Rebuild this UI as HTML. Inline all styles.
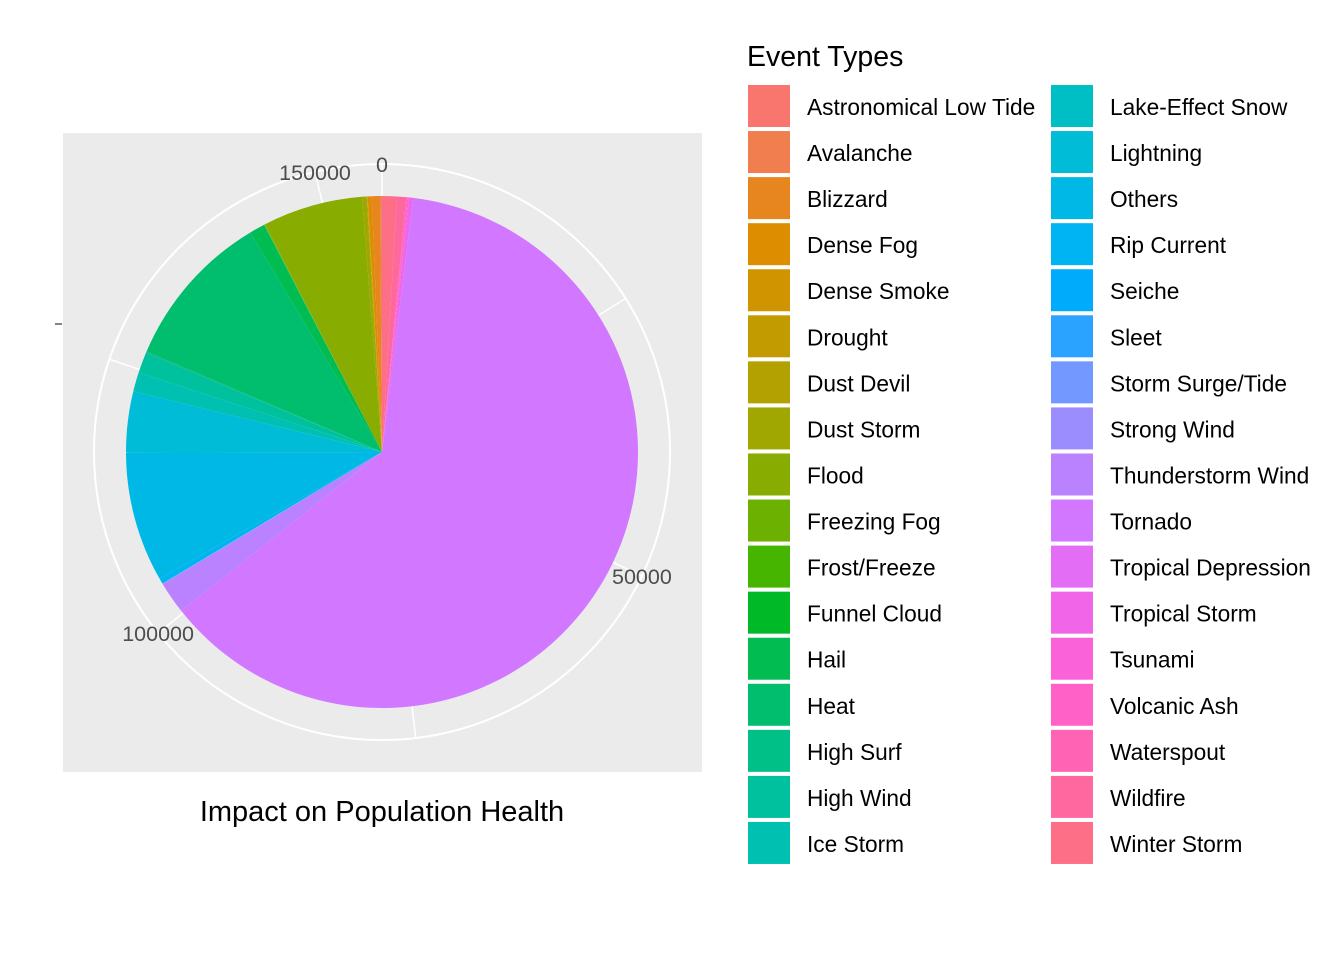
<!DOCTYPE html>
<html><head><meta charset="utf-8"><style>
body{margin:0;background:#fff;font-family:"Liberation Sans",Arial,sans-serif}
svg text{font-family:"Liberation Sans",Arial,sans-serif}
</style></head><body>
<svg id="chart" width="1344" height="960" xmlns="http://www.w3.org/2000/svg">
<rect x="0" y="0" width="1344" height="960" fill="#fff"/>
<rect x="63" y="133" width="639" height="639" fill="#EBEBEB"/>
<g id="grid"></g><g id="slices"></g><g id="labels"></g>
<line x1="55" y1="324" x2="62" y2="324" stroke="#333" stroke-width="1.2"/>
<text x="382" y="821" font-size="29" text-anchor="middle" fill="#000">Impact on Population Health</text>
<text x="747" y="66" font-size="28.5" fill="#000">Event Types</text>
<g id="legend"></g>
</svg>
<script>
const categories=["Astronomical Low Tide","Avalanche","Blizzard","Dense Fog","Dense Smoke","Drought","Dust Devil","Dust Storm","Flood","Freezing Fog","Frost/Freeze","Funnel Cloud","Hail","Heat","High Surf","High Wind","Ice Storm","Lake-Effect Snow","Lightning","Others","Rip Current","Seiche","Sleet","Storm Surge/Tide","Strong Wind","Thunderstorm Wind","Tornado","Tropical Depression","Tropical Storm","Tsunami","Volcanic Ash","Waterspout","Wildfire","Winter Storm"];
const values=[5,190,800,400,10,20,60,460,9850,30,20,40,1510,15560,130,2030,1900,5,6000,12800,520,1,1,60,40,3110,97250,1,400,160,1,100,900,1460];
const tickValues=[0,50000,100000,150000];
const tickLabels=["0","50000","100000","150000"];
const minorTicks=[25000,75000,125000];
</script>
<script>
const NS="http://www.w3.org/2000/svg";
const cx=382,cy=452,R=256,RG=288;
const n=categories.length;
function hcl(h,c,l){
  const hr=h*Math.PI/180,U=c*Math.cos(hr),V=c*Math.sin(hr);
  const Xn=95.047,Yn=100,Zn=108.883;
  const un=4*Xn/(Xn+15*Yn+3*Zn),vn=9*Yn/(Xn+15*Yn+3*Zn);
  const Y=l>8?Yn*Math.pow((l+16)/116,3):Yn*l/903.3;
  const u=U/(13*l)+un,v=V/(13*l)+vn;
  const X=9*Y*u/(4*v),Z=-X/3-5*Y+3*Y/v;
  const x=X/100,y=Y/100,z=Z/100;
  let r=3.240479*x-1.53715*y-0.498535*z,g=-0.969256*x+1.875992*y+0.041556*z,b=0.055648*x-0.204043*y+1.057311*z;
  const gam=t=>{t=t>0.0031308?1.055*Math.pow(t,1/2.4)-0.055:12.92*t;return Math.round(Math.max(0,Math.min(1,t))*255)};
  return `rgb(${gam(r)},${gam(g)},${gam(b)})`;
}
const colors=categories.map((c,i)=>hcl(15+i*360/n,100,65));
const total=values.reduce((a,b)=>a+b,0);
const ang=v=>v/total*2*Math.PI;
const pt=(a,r)=>[cx+r*Math.sin(a),cy-r*Math.cos(a)];
const grid=document.getElementById('grid');
let c=document.createElementNS(NS,'circle');
c.setAttribute('cx',cx);c.setAttribute('cy',cy);c.setAttribute('r',RG);c.setAttribute('fill','none');c.setAttribute('stroke','#fff');c.setAttribute('stroke-width','2');


grid.appendChild(c);
tickValues.concat(minorTicks).forEach(v=>{
  const [x,y]=pt(ang(v),RG);
  const l=document.createElementNS(NS,'line');
  l.setAttribute('x1',cx);l.setAttribute('y1',cy);l.setAttribute('x2',x);l.setAttribute('y2',y);
  l.setAttribute('stroke','#fff');l.setAttribute('stroke-width','1.5');
  
  
  grid.appendChild(l);
});
const sl=document.getElementById('slices');
let cum=0;
for(let i=n-1;i>=0;i--){
  const a0=ang(cum),a1=ang(cum+values[i]);cum+=values[i];
  const [x0,y0]=pt(a0,R),[x1,y1]=pt(a1,R);
  const p=document.createElementNS(NS,'path');
  p.setAttribute('d',`M${cx},${cy}L${x0},${y0}A${R},${R} 0 ${a1-a0>Math.PI?1:0} 1 ${x1},${y1}Z`);
  p.setAttribute('fill',colors[i]);
  
  
  sl.appendChild(p);
}
const lb=document.getElementById('labels');
tickValues.forEach((v,i)=>{
  const [x,y]=pt(ang(v),RG);
  const t=document.createElementNS(NS,'text');
  t.setAttribute('x',x);t.setAttribute('y',y+8);t.setAttribute('text-anchor','middle');
  t.setAttribute('font-size','21.5');t.setAttribute('fill','#4D4D4D');
  t.textContent=tickLabels[i];
  
  
  lb.appendChild(t);
});
const lg=document.getElementById('legend');
const perCol=Math.ceil(n/2);
categories.forEach((name,i)=>{
  const col=i<perCol?0:1,row=i<perCol?i:i-perCol;
  const x=col?1051:748,y=85+row*46.06;
  const g=document.createElementNS(NS,'g');
  
  
  const r=document.createElementNS(NS,'rect');
  r.setAttribute('x',x);r.setAttribute('y',y);r.setAttribute('width',42);r.setAttribute('height',42);r.setAttribute('fill',colors[i]);
  
  
  const t=document.createElementNS(NS,'text');
  t.setAttribute('x',x+59);t.setAttribute('y',y+30);t.setAttribute('font-size','22.7');t.setAttribute('fill','#000');
  t.textContent=name;
  
  
  g.appendChild(r);g.appendChild(t);lg.appendChild(g);
});
</script>
</body></html>
